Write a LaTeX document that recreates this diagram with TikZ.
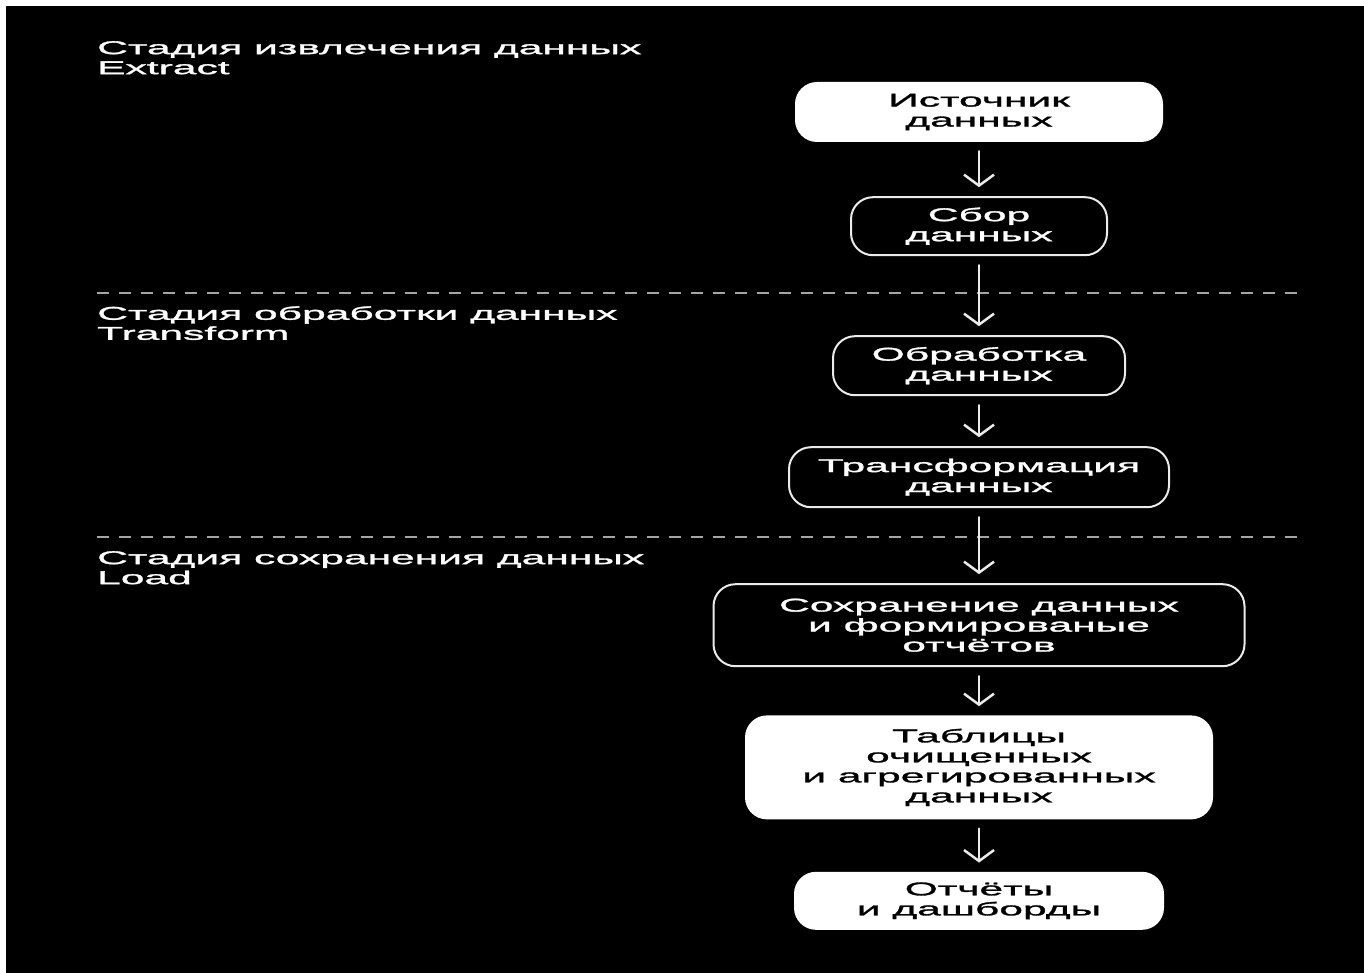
\documentclass[tikz,border=0pt]{standalone}
\usepackage{fontspec}
\setmainfont[FakeStretch=2.3,FakeBold=1.6]{Liberation Sans}
\usetikzlibrary{arrows.meta,positioning}
\definecolor{etlline}{RGB}{235,235,235}
\definecolor{etldash}{RGB}{165,165,165}

\begin{document}
\begin{tikzpicture}[x=1pt, y=-1pt, >={Straight Barb[length=11pt,width=30pt]},
  every node/.style={font=\fontsize{18.5}{20}\selectfont},
  stage/.style={align=left, inner sep=0pt, text=white, anchor=north west},
  fillbox/.style={rounded corners=22pt, fill=white, text=black, align=center, inner sep=0pt},
  linebox/.style={rounded corners=22pt, draw=etlline, line width=2pt, text=white, align=center, inner sep=0pt},
  flow/.style={->, draw=etlline, line width=2.5pt, line cap=round, shorten <=9pt, shorten >=9pt},
  sep/.style={draw=etldash, line width=2.5pt, dash pattern=on 12pt off 10pt}]
  \useasboundingbox (0,0) rectangle (1364,973);
  \fill[white] (0,0) rectangle (1364,973);
  \fill[black] (6,6) rectangle (1364,973);

  % stages
  \node[stage] (ext) at (97,41) {Стадия извлечения данных\\Extract};
  \node[stage] (trn) at (97,306) {Стадия обработки данных\\Transform};
  \node[stage] (lod) at (97,551) {Стадия сохранения данных\\Load};
  \draw[sep] (97,293) -- (1297,293);
  \draw[sep] (97,537) -- (1297,537);

  % pipeline
  \node[fillbox,minimum width=368pt,minimum height=60pt] (src) at (979,112) {Источник\\данных};
  \node[linebox,minimum width=256pt,minimum height=58pt,below=54pt of src] (col) {Сбор\\данных};
  \node[linebox,minimum width=292pt,minimum height=59pt,below=79pt of col] (prc) {Обработка\\данных};
  \node[linebox,minimum width=380pt,minimum height=60pt,below=50pt of prc] (trf) {Трансформация\\данных};
  \node[linebox,minimum width=531pt,minimum height=82pt,below=75pt of trf] (sav) {Сохранение данных\\и формированые\\отчётов};
  \node[fillbox,minimum width=468pt,minimum height=104pt,below=48pt of sav] (tab) {Таблицы\\очищенных\\и агрегированных\\данных};
  \node[fillbox,minimum width=370pt,minimum height=58pt,below=52pt of tab] (rep) {Отчёты\\и дашборды};
  \draw[flow] (src) -- (col); \draw[flow] (col) -- (prc);
  \draw[flow] (prc) -- (trf); \draw[flow] (trf) -- (sav);
  \draw[flow] (sav) -- (tab); \draw[flow] (tab) -- (rep);
\end{tikzpicture}
\end{document}
